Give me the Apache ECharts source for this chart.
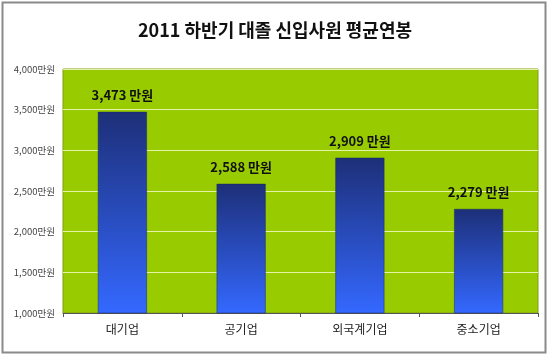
<!DOCTYPE html>
<html><head><meta charset="utf-8">
<script src="https://cdn.jsdelivr.net/npm/echarts@6/dist/echarts.min.js"></script>
<style>html,body{margin:0;padding:0;background:#fff;}#c{width:550px;height:357px;}</style>
</head><body><div id="c"></div>
<script>
const titleText = '2011 하반기 대졸 신입사원 평균연봉';
const categories = ['대기업', '공기업', '외국계기업', '중소기업'];
const salaries = [3473, 2588, 2909, 2279];
const yMin = 1000, yMax = 4000, yStep = 500;

const chart = echarts.init(document.getElementById('c'), null, {renderer: 'canvas'});
const fmt = v => v.toLocaleString('en-US');
chart.setOption({
  animation: false,
  backgroundColor: '#fff',
  title: {
    text: titleText, left: 'center', top: 16,
    textStyle: {fontFamily: 'Noto Sans CJK KR', fontWeight: 'bold', fontSize: 18, color: '#111'}
  },
  graphic: [{
    type: 'rect', shape: {x: 2.5, y: 2.5, width: 543, height: 350},
    style: {fill: 'none', stroke: '#8a8a8a', lineWidth: 2}, silent: true, z: 100
  }],
  grid: {
    left: 63, right: 12, top: 69, bottom: 44,
    show: true, backgroundColor: '#99cc00', borderColor: '#7f9f10', borderWidth: 1
  },
  xAxis: {
    type: 'category', data: categories,
    axisLine: {lineStyle: {color: '#555', width: 1}},
    axisTick: {show: true, length: 4, lineStyle: {color: '#555'}},
    axisLabel: {fontFamily: 'Noto Sans CJK KR', fontSize: 12, color: '#222', margin: 10}
  },
  yAxis: {
    type: 'value', min: yMin, max: yMax, interval: yStep,
    axisLine: {show: false}, axisTick: {show: false},
    splitLine: {lineStyle: {color: '#e6f2a8', width: 1}},
    axisLabel: {fontFamily: 'Noto Sans CJK KR', fontSize: 9.5, color: '#444', margin: 8,
      formatter: v => fmt(v) + '만원'}
  },
  series: [{
    type: 'bar', data: salaries, barWidth: 49,
    itemStyle: {
      color: new echarts.graphic.LinearGradient(0, 0, 0, 1, [
        {offset: 0, color: '#1d2f78'}, {offset: 1, color: '#3468ff'}
      ]),
      borderColor: '#1a2a60', borderWidth: 0.5
    },
    label: {
      show: true, position: 'top', distance: 10,
      formatter: p => fmt(p.value) + ' 만원',
      fontFamily: 'Noto Sans CJK KR', fontWeight: 'bold', fontSize: 13, color: '#111'
    }
  }]
});
</script></body></html>
